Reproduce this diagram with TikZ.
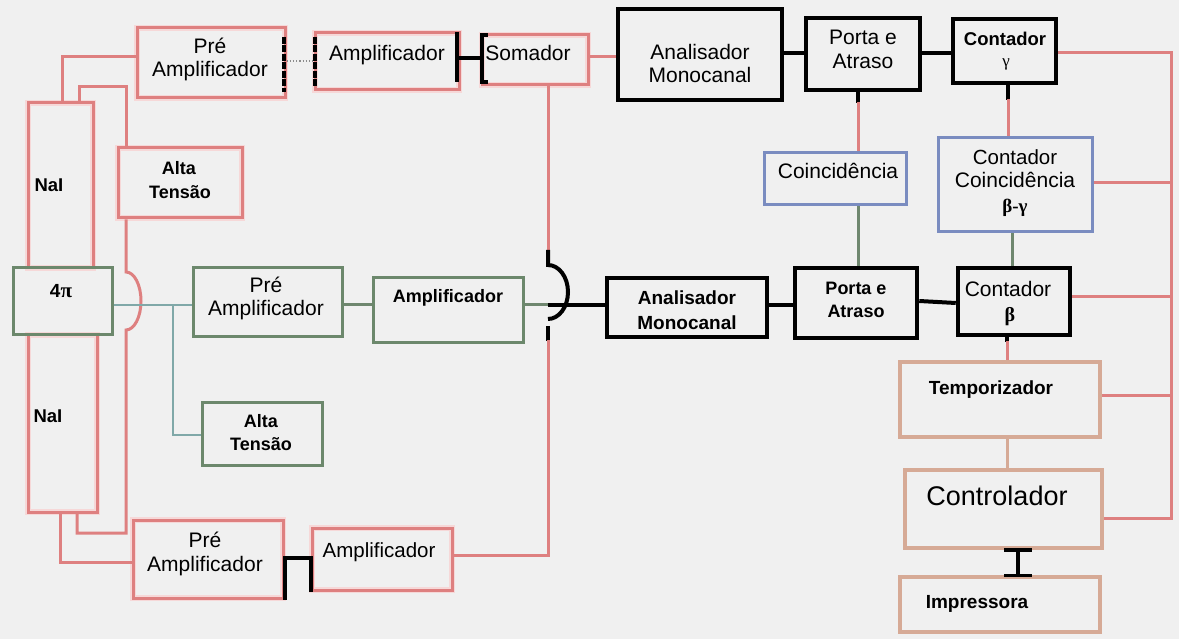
\documentclass[tikz,border=0pt]{standalone}
\usepackage{fontspec}
\setmainfont{Liberation Sans}
\newfontfamily\grkfont{Liberation Serif}
\usetikzlibrary{calc}

\definecolor{bgc}{RGB}{240,240,240}
\definecolor{redc}{RGB}{222,128,128}
\definecolor{redhalo}{RGB}{246,216,216}
\definecolor{greenc}{RGB}{108,136,108}
\definecolor{bluec}{RGB}{122,140,192}
\definecolor{tanc}{RGB}{214,170,150}
\definecolor{tealc}{RGB}{128,168,168}
\definecolor{grayc}{RGB}{140,140,140}

% box from corner (x1,y1) to corner (x2,y2), image-style coordinates
\newcommand\blockbox[6]{\node[#6, minimum width={#4-#2}, minimum height={#5-#3}] (#1) at ({(#2+#4)/2},{(#3+#5)/2}) {};}
% one line of text, placed by its baseline
\newcommand\tnode[5]{\node[txt, #4] (#1) at (#2,#3) {#5};}

\tikzset{
  base box/.style={rectangle, inner sep=0pt},
  rbox/.style={base box, draw=redc, line width=3pt, preaction={draw=redhalo, line width=6pt}},
  gbox/.style={base box, draw=greenc, line width=3pt},
  ubox/.style={base box, draw=bluec, line width=3pt},
  kbox/.style={base box, draw=black, line width=4.5pt},
  tbox/.style={base box, draw=tanc, line width=3.5pt},
  rl/.style={draw=redc, line width=3pt},
  gl/.style={draw=greenc!85!gray, line width=3pt},
  tl/.style={draw=tealc, line width=2.5pt},
  kl/.style={draw=black, line width=4pt},
  anl/.style={draw=tanc, line width=3pt},
  txt/.style={anchor=base, inner sep=0pt, text=black},
  r20/.style={font=\fontsize{20.5}{24}\selectfont},
  r21/.style={font=\fontsize{21}{24}\selectfont},
  r27/.style={font=\fontsize{27}{30}\selectfont},
  b18/.style={font=\bfseries\fontsize{18}{22}\selectfont},
  b185/.style={font=\bfseries\fontsize{18.5}{22}\selectfont},
  b19/.style={font=\bfseries\fontsize{19}{22}\selectfont},
  g17/.style={font=\grkfont\fontsize{17}{20}\selectfont},
  gb19/.style={font=\grkfont\bfseries\fontsize{19}{22}\selectfont},
  gb20/.style={font=\grkfont\bfseries\fontsize{20}{22}\selectfont},
}

\begin{document}
\begin{tikzpicture}[x=1pt,y=-1pt]
\useasboundingbox (0,0) rectangle (1179,639);
\fill[bgc] (0,0) rectangle (1179,639);

% ---- detector blocks
\blockbox{naiA}{28}{103}{93}{268}{rbox}
\blockbox{naiB}{28}{335}{97}{512}{rbox}
\blockbox{fourpi}{13}{268}{112}{335}{gbox}

% ---- gamma chain (upper)
\blockbox{preA}{137}{28}{285}{98}{rbox}
\blockbox{ampA}{315}{33}{459}{90}{rbox}
\blockbox{soma}{482}{35}{588}{85}{rbox}
\blockbox{altaA}{118}{148}{242}{218}{rbox}

% ---- beta chain (middle)
\blockbox{preB}{193}{268}{342}{337}{gbox}
\blockbox{ampB}{373}{278}{523}{342}{gbox}
\blockbox{altaB}{202}{402}{322}{465}{gbox}

% ---- lower gamma chain
\blockbox{preC}{133}{520}{283}{598}{rbox}
\blockbox{ampC}{312}{528}{452}{590}{rbox}

% ---- analysers and counters
\blockbox{anaA}{618}{9}{782}{100}{kbox}
\blockbox{portaA}{806}{18}{920}{90}{kbox}
\blockbox{contG}{953}{19}{1056}{83}{kbox}
\blockbox{anaB}{607}{278}{767}{337}{kbox}
\blockbox{portaB}{795}{268}{917}{338}{kbox}
\blockbox{contB}{958}{268}{1070}{335}{kbox}
\blockbox{coinc}{764}{153}{906}{205}{ubox}
\blockbox{contC}{938}{138}{1092}{232}{ubox}

% ---- timing and output
\blockbox{temp}{900}{362}{1100}{437}{tbox}
\blockbox{ctrl}{905}{470}{1102}{548}{tbox}
\blockbox{impr}{900}{577}{1100}{632}{tbox}

% ---- labels
\tnode{tPreA1}{210}{54}{r21}{Pré}
\tnode{tPreA2}{210}{77}{r21}{Amplificador}
\tnode{tAmpA}{387}{61}{r21}{Amplificador}
\tnode{tSoma}{528}{61}{r21}{Somador}
\tnode{tAnaA1}{700}{60}{r21}{Analisador}
\tnode{tAnaA2}{700}{83}{r21}{Monocanal}
\tnode{tPortaA1}{863}{45}{r21}{Porta e}
\tnode{tPortaA2}{863}{69}{r21}{Atraso}
\tnode{tContG1}{1005}{46}{b185}{Contador}
\tnode{tContG2}{1006}{67}{g17}{γ}
\tnode{tContC1}{1015}{165}{r20}{Contador}
\tnode{tContC2}{1015}{188}{r21}{Coincidência}
\tnode{tContC3}{1015}{213}{gb19}{β-γ}
\tnode{tCoinc}{838}{179}{r21}{Coincidência}
\tnode{tNaiA}{49}{192}{b185}{NaI}
\tnode{tAltaA1}{179}{175}{b18}{Alta}
\tnode{tAltaA2}{180}{199}{b18}{Tensão}
\tnode{tFour}{61}{298}{b19}{4{\grkfont\bfseries\fontsize{21}{22}\selectfont π}}
\tnode{tPreB1}{266}{293}{r21}{Pré}
\tnode{tPreB2}{266}{316}{r21}{Amplificador}
\tnode{tAmpB}{448}{302}{b18}{Amplificador}
\tnode{tAnaB1}{687}{305}{b19}{Analisador}
\tnode{tAnaB2}{687}{330}{b19}{Monocanal}
\tnode{tPortaB1}{856}{295}{b18}{Porta e}
\tnode{tPortaB2}{856}{318}{b18}{Atraso}
\tnode{tContB1}{1008}{297}{r21}{Contador}
\tnode{tContB2}{1010}{322}{gb20}{β}
\tnode{tNaiB}{48}{422}{b185}{NaI}
\tnode{tAltaB1}{261}{427}{b18}{Alta}
\tnode{tAltaB2}{261}{450}{b18}{Tensão}
\tnode{tTemp}{991}{394}{b19}{Temporizador}
\tnode{tCtrl}{997}{505}{r27}{Controlador}
\tnode{tImpr}{977}{608}{b19}{Impressora}
\tnode{tPreC1}{205}{547}{r21}{Pré}
\tnode{tPreC2}{205}{571}{r21}{Amplificador}
\tnode{tAmpC}{379}{557}{r20}{Amplificador}

% ---- wiring of the NaI detectors
\draw[rl] (naiA.north -| 62,0) -- (62,57) -- (preA.west |- 0,57);
\draw[rl] (naiA.north -| 79,0) -- (79,87) -- (126,87) -- (altaA.north -| 126,0);
\draw[rl] (altaA.south -| 126,0) -- (126,272)
  arc[start angle=90, end angle=-90, x radius=15pt, y radius=29pt]
  -- (126,533) -- (77,533) -- (naiB.south -| 77,0);
\draw[rl] (naiB.south -| 60,0) -- (60,562) -- (preC.west |- 0,562);

% ---- 4pi detector to its preamplifier and high voltage
\coordinate (hvTap) at (173,305);
\draw[tl] (fourpi.east |- 0,305) -- (preB.west |- 0,305);
\draw[tl] (hvTap) -- (173,435) -- (altaB.west |- 0,435);
\draw[gl] (preB.east |- 0,305) -- (ampB.west |- 0,305);
\draw[gl] (ampB.east |- 0,305) -- (548,305);
\draw[kl] (548,305) -- (anaB.west |- 0,305);

% ---- summing of the two gamma channels, hopping over the beta line
\draw[rl] (soma.south -| 548,0) -- (548,251);
\draw[kl] (548,250) -- (548,265)
  arc[start angle=90, end angle=-90, x radius=20pt, y radius=27pt];
\draw[kl] (548,326) -- (548,341);
\draw[rl] (548,340) -- (548,555) -- (ampC.east |- 0,555);

% ---- cable links on the gamma side
\draw[kl, line width=3.5pt, dash pattern=on 7pt off 1.5pt] (284,37) -- (284,92);
\draw[grayc, line width=1.2pt, dotted] (preA.east |- 0,61) -- (ampA.west |- 0,61);
\draw[kl, line width=3.5pt, dash pattern=on 7pt off 1.5pt] (315,37) -- (315,88);
\draw[kl] (457,32) -- (457,82);
\draw[kl] (457,58) -- (482,58);
\draw[kl, line width=3.5pt] (488,35) -- (482,35) -- (482,82) -- (488,82);
\draw[kl] (preC.south east) -- (preC.south east |- 0,558) -- (ampC.west |- 0,558) -- (ampC.south west);

% ---- gamma logic
\draw[rl] (soma.east |- 0,57) -- (anaA.west |- 0,57);
\draw[kl] (anaA.east |- 0,53) -- (portaA.west |- 0,53);
\draw[kl] (portaA.east |- 0,53) -- (contG.west |- 0,53);
\draw[kl] (portaA.south -| 858,0) -- (858,103);
\draw[rl] (858,102) -- (coinc.north -| 858,0);
\draw[kl] (contG.south -| 1008,0) -- (1008,100);
\draw[rl] (1008,99) -- (contC.north -| 1008,0);

% ---- beta logic
\draw[gl] (coinc.south -| 858,0) -- (portaB.north -| 858,0);
\draw[kl] (anaB.east |- 0,305) -- (portaB.west |- 0,305);
\draw[kl] (portaB.east |- 0,301) -- (contB.west |- 0,303);
\draw[gl] (contC.south -| 1012,0) -- (contB.north -| 1012,0);
\draw[kl] (contB.south -| 1007,0) -- (1007,342);
\draw[rl] (1007,341) -- (temp.north -| 1007,0);

% ---- timer, controller and printer
\draw[anl] (temp.south -| 1007,0) -- (ctrl.north -| 1007,0);
\draw[kl, line width=3.5pt] (ctrl.south -| 1018,0) -- (impr.north -| 1018,0);
\draw[kl, line width=3.5pt] (ctrl.south -| 1004,0) -- (ctrl.south -| 1032,0);
\draw[kl, line width=3.5pt] (impr.north -| 1004,0) -- (impr.north -| 1032,0);

% ---- common bus on the right
\coordinate (busTop) at (1171,53);
\coordinate (busBot) at (1171,518);
\draw[rl] (contG.east |- busTop) -- (busTop) -- (busBot) -- (ctrl.east |- busBot);
\draw[rl] (contC.east |- 0,183) -- (busTop |- 0,183);
\draw[rl] (contB.east |- 0,297) -- (busTop |- 0,297);
\draw[rl] (temp.east |- 0,395) -- (busTop |- 0,395);
\end{tikzpicture}
\end{document}
